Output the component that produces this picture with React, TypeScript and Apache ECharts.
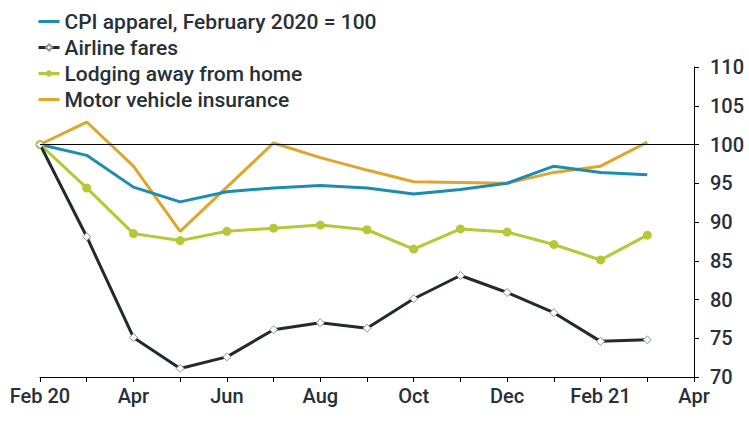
import React, { useEffect, useRef } from "react";
import * as echarts from "echarts";

const months = ["Feb 20", "Mar", "Apr", "May", "Jun", "Jul", "Aug", "Sep", "Oct", "Nov", "Dec", "Jan", "Feb 21", "Mar 21", "Apr 21"];
const tickLabels: Record<string, string> = { "Feb 20": "Feb 20", Apr: "Apr", Jun: "Jun", Aug: "Aug", Oct: "Oct", Dec: "Dec", "Feb 21": "Feb 21", "Apr 21": "Apr" };

const cpiApparel = [100, 98.6, 94.5, 92.6, 93.9, 94.4, 94.7, 94.4, 93.6, 94.2, 95.0, 97.2, 96.4, 96.1];
const airlineFares = [100, 88.1, 75.1, 71.1, 72.6, 76.1, 77.0, 76.3, 80.1, 83.1, 80.9, 78.3, 74.6, 74.8];
const lodging = [100, 94.4, 88.5, 87.6, 88.8, 89.2, 89.6, 89.0, 86.5, 89.1, 88.7, 87.1, 85.1, 88.3];
const motorInsurance = [100, 102.9, 97.2, 88.8, 94.5, 100.2, 98.3, 96.7, 95.2, 95.1, 95.0, 96.4, 97.2, 100.3];

const yTicks = { min: 70, max: 110, interval: 5 };

const FONT = "Roboto";
const TEXT = "#263036";

export default function App() {
  const ref = useRef<HTMLDivElement>(null);
  useEffect(() => {
    if (!ref.current) return;
    const chart = echarts.init(ref.current, undefined, { renderer: "svg" });
    chart.setOption({
      animation: false,
      textStyle: { fontFamily: FONT },
      grid: { left: 40, right: 55, top: 67, bottom: 44 },
      legend: {
        orient: "vertical",
        left: 32,
        top: 6,
        itemGap: 5,
        itemWidth: 21,
        itemHeight: 8,
        lineStyle: { width: 3 },
        textStyle: { fontSize: 21, fontWeight: 500, color: TEXT, fontFamily: FONT },
        data: [
          { name: "CPI apparel, February 2020 = 100", itemStyle: { opacity: 0 } },
          { name: "Airline fares" },
          { name: "Lodging away from home" },
          { name: "Motor vehicle insurance", itemStyle: { opacity: 0 } },
        ],
      },
      xAxis: {
        type: "category",
        data: months,
        boundaryGap: false,
        axisLine: { lineStyle: { color: "#000", width: 1 } },
        axisTick: { show: true, interval: 0, length: 5, lineStyle: { color: "#000" } },
        axisLabel: {
          interval: 0,
          fontSize: 20,
          fontWeight: 500,
          color: TEXT,
          margin: 9,
          formatter: (v: string) => tickLabels[v] ?? "",
        },
        splitLine: { show: false },
      },
      yAxis: {
        type: "value",
        position: "right",
        min: yTicks.min,
        max: yTicks.max,
        interval: yTicks.interval,
        axisLine: { show: true, lineStyle: { color: "#000", width: 1 } },
        axisTick: { show: true, length: 5, lineStyle: { color: "#000" } },
        axisLabel: { fontSize: 20, fontWeight: 500, color: TEXT, margin: 16 },
        splitLine: { show: false },
      },
      series: [
        {
          name: "CPI apparel, February 2020 = 100",
          type: "line",
          data: cpiApparel,
          symbol: "none",
          lineStyle: { color: "#1b8db0", width: 3 },
          itemStyle: { color: "#1b8db0" },
          markLine: {
            silent: true,
            symbol: "none",
            label: { show: false },
            lineStyle: { color: "#000", width: 1, type: "solid" },
            data: [{ yAxis: 100 }],
          },
          z: 3,
        },
        {
          name: "Airline fares",
          type: "line",
          data: airlineFares,
          symbol: "diamond",
          symbolSize: 8,
          showAllSymbol: true,
          lineStyle: { color: "#1e2b30", width: 3 },
          itemStyle: { color: "#ffffff", borderColor: "#8a9499", borderWidth: 1 },
          z: 4,
        },
        {
          name: "Lodging away from home",
          type: "line",
          data: lodging,
          symbol: "circle",
          symbolSize: 9,
          showAllSymbol: true,
          lineStyle: { color: "#b4c934", width: 3 },
          itemStyle: { color: "#b4c934" },
          z: 3,
        },
        {
          name: "Motor vehicle insurance",
          type: "line",
          data: motorInsurance,
          symbol: "none",
          lineStyle: { color: "#dfa62a", width: 3 },
          itemStyle: { color: "#dfa62a" },
          z: 2,
        },
      ],
    });
    return () => chart.dispose();
  }, []);
  return <div ref={ref} style={{ width: 749, height: 421, position: "fixed", left: 0, top: 0, background: "#fff" }} />;
}
